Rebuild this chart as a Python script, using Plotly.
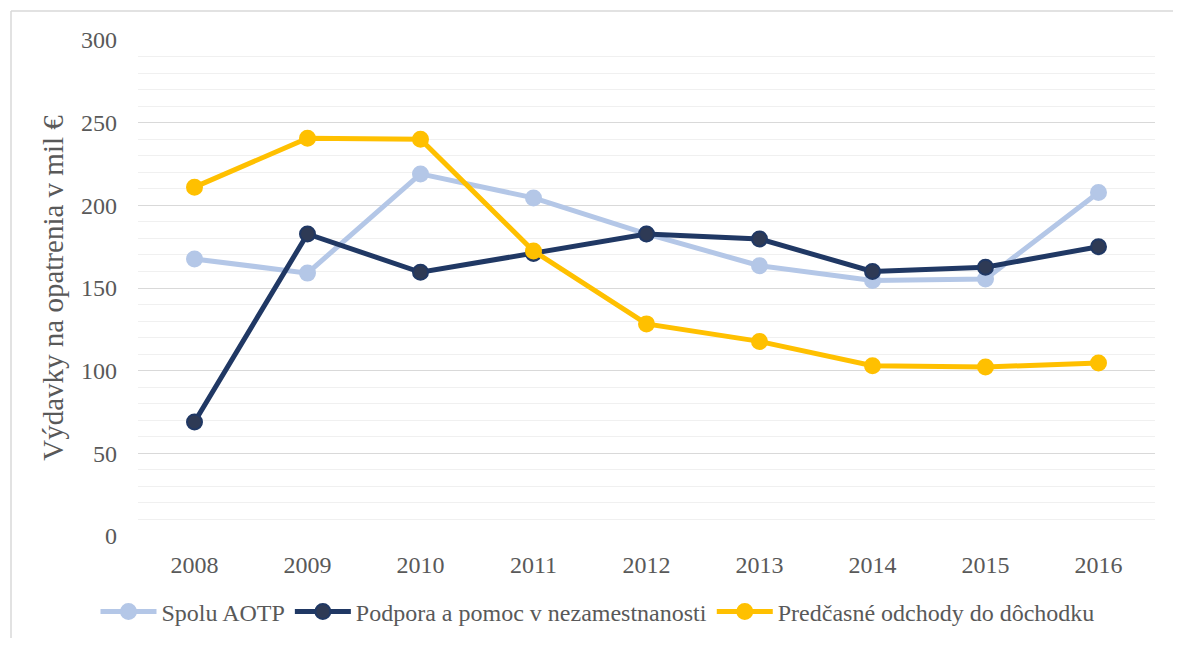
import plotly.graph_objects as go

years = ["2008", "2009", "2010", "2011", "2012", "2013", "2014", "2015", "2016"]
spolu_aotp = [167.6, 159.0, 219.0, 204.5, 182.7, 163.5, 154.5, 155.5, 207.8]
podpora = [69.0, 182.7, 159.5, 170.8, 182.7, 179.7, 160.0, 162.6, 175.0]
predcasne = [211.0, 240.6, 240.0, 172.4, 128.3, 117.7, 103.0, 102.2, 104.7]

names = ["Spolu AOTP", "Podpora a pomoc v nezamestnanosti", "Predčasné odchody do dôchodku"]
series = [spolu_aotp, podpora, predcasne]
line_colors = ["#B4C7E7", "#203864", "#FFC000"]
marker_fill = ["#B4C7E7", "#2E3A55", "#FFC000"]

FONT = "Liberation Serif"
TXT = "#595959"

# page body has a default 8px margin; keep the figure inside the window
W, H = 1165, 630
ML, MR, MT, MB = 130, 18, 32, 102
PW, PH = W - ML - MR, H - MT - MB

fig = go.Figure()
for name, vals, lc, mf in zip(names, series, line_colors, marker_fill):
    fig.add_trace(go.Scatter(
        x=years, y=vals, name=name, mode="lines+markers",
        line=dict(color=lc, width=5),
        marker=dict(size=15, color=mf, line=dict(color=lc, width=2)),
    ))

fig.update_layout(
    width=W, height=H,
    margin=dict(l=ML, r=MR, t=MT, b=MB),
    paper_bgcolor="white", plot_bgcolor="white",
    font=dict(family=FONT, color=TXT, size=24),
    showlegend=True,
    legend=dict(orientation="h", xref="container", x=0.506, xanchor="center",
                yref="container", y=0.0413, yanchor="middle",
                font=dict(family=FONT, size=24, color=TXT),
                itemwidth=56, tracegroupgap=0),
    xaxis=dict(type="category", range=[-0.5, 8.5], showgrid=False,
               showline=False, zeroline=False, ticks="",
               ticklabelstandoff=12,
               tickfont=dict(family=FONT, size=24, color=TXT)),
    yaxis=dict(range=[0, 300], dtick=50, tick0=0, showgrid=True,
               gridcolor="#D9D9D9", gridwidth=1.3,
               minor=dict(dtick=10, showgrid=True, gridcolor="#F0F0F0", gridwidth=1.3),
               zeroline=False, showline=False, ticks="",
               ticklabelstandoff=20,
               tickfont=dict(family=FONT, size=24, color=TXT),
               title=dict(text="Výdavky na opatrenia v mil €",
                          font=dict(family=FONT, size=29, color=TXT),
                          standoff=8)),
)

# outer chart border (light gray): left and top edges, running to the figure edges
bx = (3 - ML) / PW
by = (PH + MT - 3) / PH
x_right = (W - ML) / PW
y_bottom = -MB / PH
fig.add_shape(type="line", xref="paper", yref="paper",
              x0=bx, x1=bx, y0=y_bottom, y1=by,
              line=dict(color="#D9D9D9", width=1.5), layer="below")
fig.add_shape(type="line", xref="paper", yref="paper",
              x0=bx, x1=x_right, y0=by, y1=by,
              line=dict(color="#D9D9D9", width=1.5), layer="below")

fig.write_html("out.html")
